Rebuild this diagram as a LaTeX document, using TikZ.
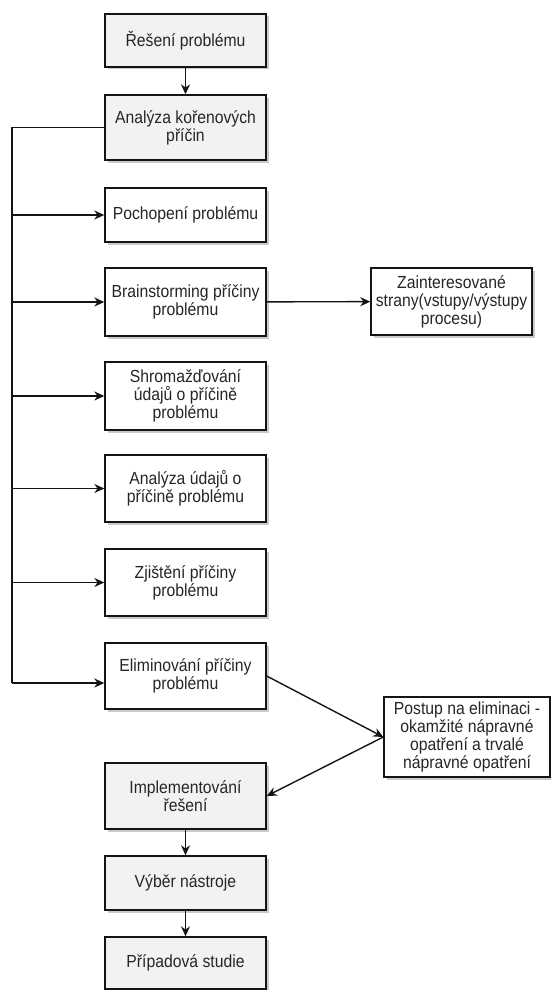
\documentclass[tikz,border=0pt]{standalone}
\usepackage{fontspec}
\setmainfont[FakeStretch=0.9]{Liberation Sans}
\usetikzlibrary{arrows.meta,shadows}

\definecolor{linec}{HTML}{141414}
\definecolor{txt}{HTML}{262626}
\definecolor{boxgray}{HTML}{F2F2F2}

\tikzset{
  box/.style={draw=linec, line width=1.4pt, fill=white, align=center,
    inner sep=0pt, text=txt, minimum width=161pt,
    drop shadow={shadow xshift=2.5pt, shadow yshift=-2.5pt, opacity=0.35, fill=black!60}},
  greybox/.style={box, fill=boxgray},
  link/.style={draw=linec, line width=1.4pt},
  conn/.style={link, -{Stealth[length=10pt,width=9pt]}}
}

\begin{document}
\begin{tikzpicture}[x=1pt, y=-1pt, font=\fontsize{17.5}{18}\selectfont]
  \useasboundingbox (0,0) rectangle (551,990);

  % main column
  \node[greybox, minimum height=53pt] (b1) at (185.5,40.5) {Řešení problému};
  \node[greybox, minimum height=65pt] (b2) at (185.5,127.5) {Analýza kořenových\\příčin};
  \node[box, minimum height=54pt] (b3) at (185.5,215) {Pochopení problému};
  \node[box, minimum height=68pt] (b4) at (185.5,302) {Brainstorming příčiny\\problému};
  \node[box, minimum height=68pt] (b5) at (185.5,396) {Shromažďování\\údajů o příčině\\problému};
  \node[box, minimum height=67pt] (b6) at (185.5,488.5) {Analýza údajů o\\příčině problému};
  \node[box, minimum height=67pt] (b7) at (185.5,582.5) {Zjištění příčiny\\problému};
  \node[box, minimum height=66pt] (b8) at (185.5,676) {Eliminování příčiny\\problému};
  \node[greybox, minimum height=66pt] (impl) at (185.5,796) {Implementování\\řešení};
  \node[greybox, minimum height=54pt] (tool) at (185.5,883) {Výběr nástroje};
  \node[greybox, minimum height=52pt] (case) at (185.5,963) {Případová studie};

  % side boxes
  \node[box, minimum height=67pt] (stake) at (451.5,301.5) {Zainteresované\\strany(vstupy/výstupy\\procesu)};
  \node[box, minimum width=166pt, minimum height=80pt] (post) at (467,737) {Postup na eliminaci -\\okamžité nápravné\\opatření a trvalé\\nápravné opatření};

  % vertical flow
  \draw[conn] (b1) -- (b2);
  \draw[conn] (impl) -- (tool);
  \draw[conn] (tool) -- (case);

  % left trunk feeding the analysis steps
  \coordinate (trunk) at (12,0);
  \coordinate (trunkend) at (12,683);
  \draw[link] (b2.west) -- (b2.west -| trunk) -- (trunkend);
  \foreach \n in {b3,b4,b5,b6,b7}
    \draw[conn] (\n.west -| trunk) -- (\n.west);
  \draw[conn] (trunkend) -- (trunkend -| b8.west);

  % side connections
  \draw[conn] (b4) -- (stake);
  \draw[conn] (b8.east) -- (post.west);
  \draw[conn] (post.west) -- (impl.east);
\end{tikzpicture}
\end{document}
